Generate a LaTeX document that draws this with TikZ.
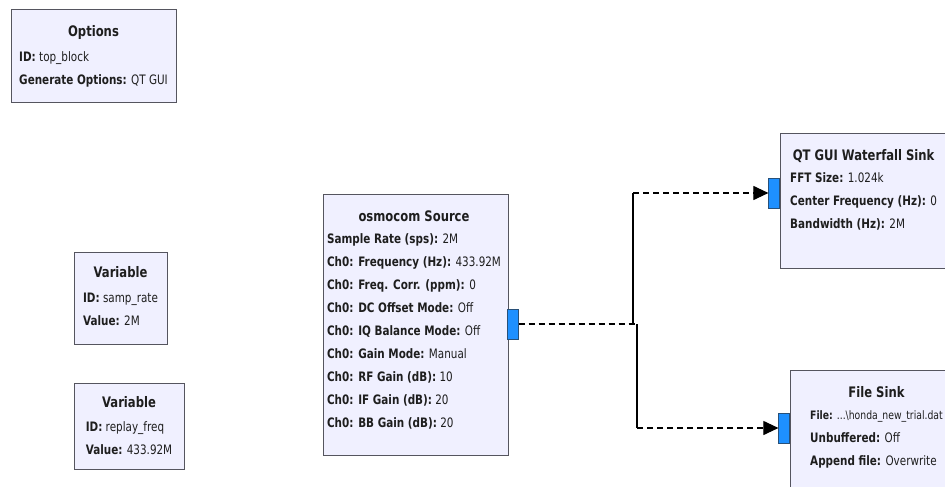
\documentclass[tikz,border=0pt]{standalone}
\usepackage{fontspec}
\setmainfont{DejaVu Sans}[FakeStretch=0.8]
\usetikzlibrary{arrows.meta}
\definecolor{blockfill}{RGB}{240,240,255}
\definecolor{blockline}{RGB}{85,85,95}
\definecolor{portblue}{RGB}{30,144,255}
\definecolor{portline}{RGB}{40,80,120}
\definecolor{textgray}{RGB}{30,30,30}
\newcommand{\blktitle}[1]{\multicolumn{1}{@{}c@{}}{\fontsize{14.5}{23}\selectfont\bfseries #1}}
\newcommand{\prm}[2]{\textbf{#1:} #2}
\begin{document}
\begin{tikzpicture}[x=1pt,y=-1pt,
  block/.style={draw=blockline, fill=blockfill, line width=0.8pt, anchor=north west, inner sep=0pt},
  txt/.style={inner sep=0pt, text=textgray, font=\fontsize{13}{23}\selectfont},
  port/.style={draw=portline, fill=portblue, line width=0.6pt, minimum width=11pt, minimum height=30pt, inner sep=0pt},
  dashedge/.style={line width=1.1pt, dash pattern=on 6pt off 4pt},
  solidedge/.style={line width=1.1pt},
  tip/.style={-{Triangle[length=15pt,width=14pt]}}
]
\useasboundingbox (0,0) rectangle (945,487);
\clip (0,0) rectangle (945,487);
\fill[white] (0,0) rectangle (945,487);

% Options
\node[block, minimum width=165pt, minimum height=93pt] (opt) at (11,9) {};
\node[txt, anchor=north] (optT) at (93.5,20) {\begin{tabular}{@{}l@{}}\blktitle{Options}\\[2pt]
\prm{ID}{top\_block}\\ \prm{Generate Options}{QT GUI}\end{tabular}};

% Variable 1
\node[block, minimum width=93pt, minimum height=92pt] (var1) at (74,252) {};
\node[txt, anchor=north] (var1T) at (120.5,261) {\begin{tabular}{@{}l@{}}\blktitle{Variable}\\[2pt]
\prm{ID}{samp\_rate}\\ \prm{Value}{2M}\end{tabular}};

% Variable 2
\node[block, minimum width=110pt, minimum height=86pt] (var2) at (74,383) {};
\node[txt, anchor=north] (var2T) at (129,391) {\begin{tabular}{@{}l@{}}\blktitle{Variable}\\[1pt]
\prm{ID}{replay\_freq}\\ \prm{Value}{433.92M}\end{tabular}};

% osmocom Source
\node[block, minimum width=185pt, minimum height=261pt] (osm) at (323,194) {};
\node[txt, anchor=north] (osmT) at (414,205) {\begin{tabular}{@{}l@{}}\blktitle{osmocom Source}\\[-1pt]
\prm{Sample Rate (sps)}{2M}\\
\prm{Ch0: Frequency (Hz)}{433.92M}\\
\prm{Ch0: Freq. Corr. (ppm)}{0}\\
\prm{Ch0: DC Offset Mode}{Off}\\
\prm{Ch0: IQ Balance Mode}{Off}\\
\prm{Ch0: Gain Mode}{Manual}\\
\prm{Ch0: RF Gain (dB)}{10}\\
\prm{Ch0: IF Gain (dB)}{20}\\
\prm{Ch0: BB Gain (dB)}{20}\end{tabular}};
\node[port, anchor=west] (osmP) at (507,324) {};

% QT GUI Waterfall Sink
\node[block, minimum width=200pt, minimum height=135pt] (wf) at (780,133) {};
\node[txt, anchor=north west] (wfT) at (790,144) {\begin{tabular}{@{}l@{}}\blktitle{QT GUI Waterfall Sink}\\[-1pt]
\prm{FFT Size}{1.024k}\\
\prm{Center Frequency (Hz)}{0}\\
\prm{Bandwidth (Hz)}{2M}\end{tabular}};
\node[port, anchor=east] (wfP) at (780,193) {};

% File Sink
\node[block, minimum width=200pt, minimum height=140pt] (fs) at (790,370) {};
\node[txt, anchor=north west] (fsT) at (810,381) {\begin{tabular}{@{}l@{}}\blktitle{File Sink}\\[-1pt]
{\fontsize{11.6}{23}\selectfont\prm{File}{...\textbackslash honda\_new\_trial.dat}}\\
\prm{Unbuffered}{Off}\\
\prm{Append file}{Overwrite}\end{tabular}};
\node[port, anchor=east] (fsP) at (790,428) {};

% connectors
\coordinate (j1) at (633,324);
\coordinate (j1u) at (633,193);
\coordinate (j2) at (637,324);
\coordinate (j2d) at (637,428);
\draw[dashedge] (osmP.east) -- (j2);
\draw[solidedge] (j1) -- (j1u);
\draw[dashedge, tip] (j1u) -- (wfP.west);
\draw[solidedge] (j2) -- (j2d);
\draw[dashedge, tip] (j2d) -- (fsP.west);
\end{tikzpicture}
\end{document}
